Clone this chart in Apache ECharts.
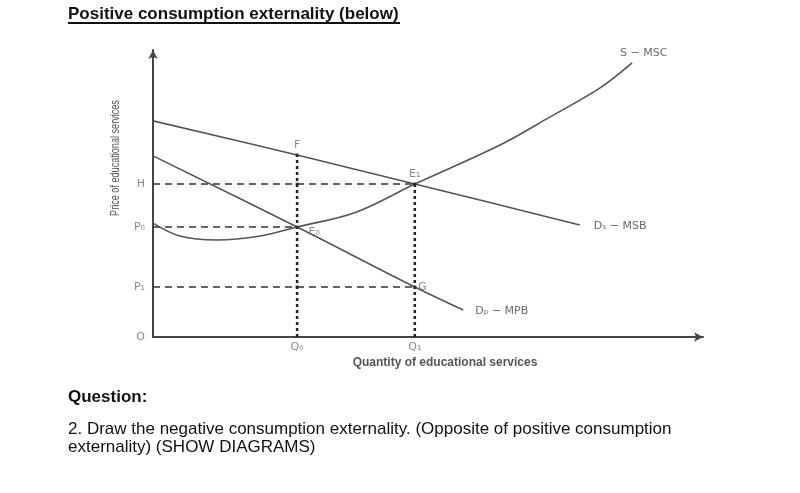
<!DOCTYPE html>
<html>
<head>
<meta charset="utf-8">
<script src="https://cdn.jsdelivr.net/npm/echarts@6/dist/echarts.min.js"></script>
<style>
  html, body { margin: 0; padding: 0; background: #fff; }
  #chart { width: 800px; height: 493px; }
</style>
</head>
<body>
<div id="chart"></div>
<script>
// key levels (arbitrary 0-100 units)
const Q0 = 26.2
const Q1 = 47.6
const H = 53.3
const P0 = 38.3
const P1 = 17.4
const F = 63.4

// curves
const msb = [[0, 75.3], [26.2, 63.4], [47.6, 53.3], [62, 46.5], [77.6, 39.0]]
const mpb = [[0, 63.1], [26.2, 38.3], [47.6, 17.4], [56.4, 9.4]]
const msc = [[0, 39.7], [4.9, 35.2], [11.6, 33.8], [19.5, 35.2], [26.2, 38.3], [36.9, 43.5],
  [47.6, 53.3], [63.1, 66.9], [72.2, 76.7], [81.3, 86.8], [87.1, 95.5]]

const priceLabels = [['H', H], ['P₀', P0], ['P₁', P1], ['O', 0]]
const qtyLabels = [['Q₀', Q0], ['Q₁', Q1]]

const chart = echarts.init(document.getElementById('chart'))

const gray = '#555'
const labelColor = '#6a6a6a'
const dash = { color: '#333', width: 1.5, type: [7, 5] }
const dots = { color: '#222', width: 2.5, type: [3, 3] }

function seg(data, style) {
  return { type: 'line', data, symbol: 'none', lineStyle: style, silent: true, z: 1 }
}

function curve(data, name, offset) {
  return {
    type: 'line',
    data,
    smooth: 0.35,
    symbol: 'none',
    lineStyle: { color: gray, width: 1.6 },
    z: 3,
    endLabel: {
      show: true,
      formatter: name,
      color: labelColor,
      fontSize: 11,
      fontFamily: 'DejaVu Sans',
      offset,
    },
  }
}

const option = {
  animation: false,
  backgroundColor: '#fff',
  grid: { left: 153, top: 50, width: 550, height: 287 },
  xAxis: {
    type: 'value', min: 0, max: 100,
    axisLine: { show: true, symbol: ['none', 'arrow'], symbolSize: [7, 9], lineStyle: { color: '#444', width: 2 } },
    axisTick: { show: false }, axisLabel: { show: false }, splitLine: { show: false },
  },
  yAxis: {
    type: 'value', min: 0, max: 100,
    axisLine: { show: true, symbol: ['none', 'arrow'], symbolSize: [7, 9], lineStyle: { color: '#444', width: 2 } },
    axisTick: { show: false }, axisLabel: { show: false }, splitLine: { show: false },
  },
  graphic: [
    { type: 'text', left: 68, top: 6, style: { text: 'Positive consumption externality (below)', font: 'bold 17px "Liberation Sans"', fill: '#111' } },
    { type: 'line', shape: { x1: 68, y1: 23, x2: 400, y2: 23 }, style: { stroke: '#111', lineWidth: 2 } },
    { type: 'text', x: 115, y: 158, rotation: Math.PI / 2, scaleX: 0.7, style: { text: 'Price of educational services', font: '13px "Liberation Sans"', fill: '#555', align: 'center', verticalAlign: 'middle' } },
    { type: 'text', x: 445, y: 363, style: { text: 'Quantity of educational services', font: 'bold 12px "Liberation Sans"', fill: '#555', align: 'center', verticalAlign: 'middle' } },
    { type: 'text', left: 68, top: 389, style: { text: 'Question:', font: 'bold 17px "Liberation Sans"', fill: '#111' } },
    { type: 'text', left: 68, top: 420, style: { text: '2. Draw the negative consumption externality. (Opposite of positive consumption\nexternality) (SHOW DIAGRAMS)', font: '17px "Liberation Sans"', lineHeight: 18, fill: '#111' } },
  ],
  series: [
    // guide lines
    seg([[0, H], [Q1, H]], dash),
    seg([[0, P0], [Q0, P0]], dash),
    seg([[0, P1], [Q1, P1]], dash),
    seg([[Q0, 0], [Q0, F]], dots),
    seg([[Q1, 0], [Q1, H]], dots),
    // curves
    curve(msc, 'S − MSC', [-20, -10]),
    curve(msb, 'Dₛ − MSB', [6, 1]),
    curve(mpb, 'Dₚ − MPB', [4, 1]),
    // axis letters
    {
      type: 'scatter', symbolSize: 0, silent: true,
      data: priceLabels.map(([n, v]) => ({ value: [0, v], name: n })),
      label: { show: true, position: 'left', distance: 8, formatter: '{b}', color: labelColor, fontSize: 11, fontFamily: 'DejaVu Sans' },
    },
    {
      type: 'scatter', symbolSize: 0, silent: true,
      data: qtyLabels.map(([n, v]) => ({ value: [v, 0], name: n })),
      label: { show: true, position: 'bottom', distance: 5, formatter: '{b}', color: labelColor, fontSize: 11, fontFamily: 'DejaVu Sans' },
    },
    // point letters
    {
      type: 'scatter', symbol: 'rect', symbolSize: 3, itemStyle: { color: '#222' }, silent: true, z: 4,
      data: [
        { value: [Q0, F], name: 'F', label: { position: 'top', distance: 3 } },
        { value: [Q1, H], name: 'E₁', label: { position: 'top', distance: 3 } },
        { value: [Q0, P0], name: 'E₀', label: { position: 'right', distance: 10, offset: [0, 5] } },
        { value: [Q1, P1], name: 'G', label: { position: 'right', distance: 2 } },
        { value: [Q0, H], name: '' },
        { value: [Q0, P1], name: '' },
      ],
      label: { show: true, formatter: '{b}', color: labelColor, fontSize: 11, fontFamily: 'DejaVu Sans' },
    },
  ],
}

chart.setOption(option)
</script>
</body>
</html>
